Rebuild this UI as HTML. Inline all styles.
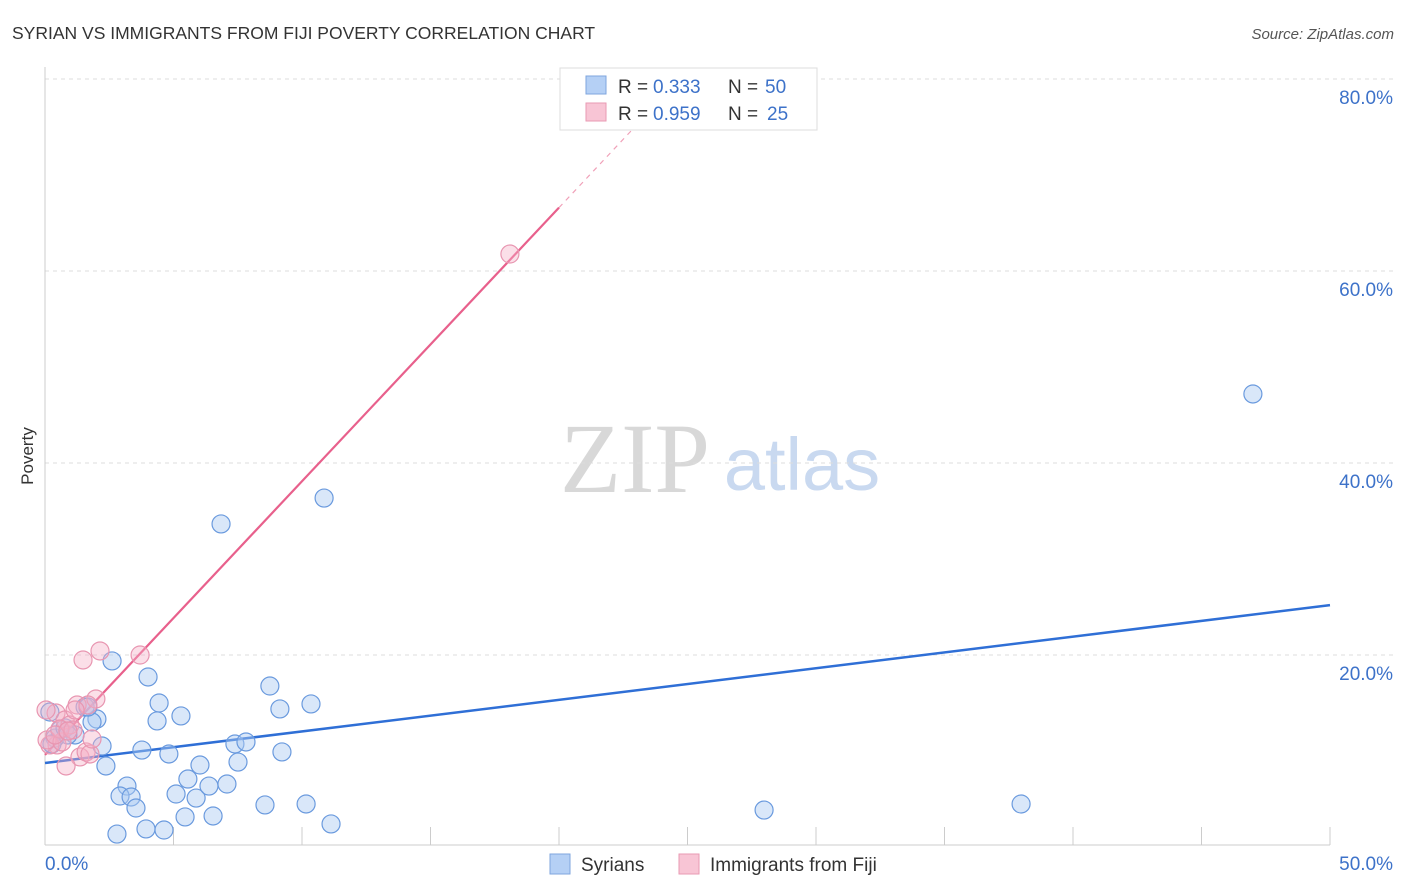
<!DOCTYPE html>
<html><head><meta charset="utf-8">
<style>
body{margin:0;background:#fff;font-family:"Liberation Sans",sans-serif;}
svg{display:block}
</style></head>
<body>
<svg id="chart" width="1406" height="892" xmlns="http://www.w3.org/2000/svg" font-family="Liberation Sans, sans-serif">
<text x="12" y="39" font-size="17.5" fill="#333">SYRIAN VS IMMIGRANTS FROM FIJI POVERTY CORRELATION CHART</text>
<text x="1394" y="39" font-size="15" font-style="italic" fill="#555" text-anchor="end">Source: ZipAtlas.com</text>
<text transform="translate(33,456) rotate(-90)" font-size="17" fill="#333" text-anchor="middle">Poverty</text>
<g>
<text x="635" y="492" font-size="100" font-family="Liberation Serif, serif" fill="#d8d8d8" text-anchor="middle">ZIP</text>
<text x="802" y="490" font-size="74" fill="#c9d9f0" text-anchor="middle">atlas</text>
</g>
<g id="grid"></g>
<g id="axes"></g>
<g id="lines"></g>
<g id="pts"></g>
<g>
<rect x="560" y="68" width="257" height="62" fill="#fff" stroke="#ddd"/>
<rect x="586" y="76" width="20" height="18" fill="#b5d0f5" stroke="#7fa6de"/>
<text x="618" y="93" font-size="19" fill="#333">R =</text>
<text x="653" y="93" font-size="19" fill="#3d72c9">0.333</text>
<text x="728" y="93" font-size="19" fill="#333">N =</text>
<text x="765" y="93" font-size="19" fill="#3d72c9">50</text>
<rect x="586" y="103" width="20" height="18" fill="#f8c5d5" stroke="#e99ab3"/>
<text x="618" y="120" font-size="19" fill="#333">R =</text>
<text x="653" y="120" font-size="19" fill="#3d72c9">0.959</text>
<text x="728" y="120" font-size="19" fill="#333">N =</text>
<text x="767" y="120" font-size="19" fill="#3d72c9">25</text>
</g>
<g>
<rect x="550" y="854" width="20" height="20" fill="#b5d0f5" stroke="#7fa6de"/>
<text x="581" y="871" font-size="19" fill="#333">Syrians</text>
<rect x="679" y="854" width="20" height="20" fill="#f8c5d5" stroke="#e99ab3"/>
<text x="710" y="871" font-size="19" fill="#333">Immigrants from Fiji</text>
</g>
</svg>
<script>
const blueX=[2.61,4.01,4.44,2.02,1.83,4.36,5.29,8.75,9.14,10.35,6.85,10.86,47.0,2.22,3.77,4.82,7.39,7.82,7.51,9.22,2.37,6.03,5.56,3.19,2.92,3.35,3.54,5.10,5.88,6.38,7.08,5.45,6.54,8.56,10.16,11.13,2.80,3.93,4.63,27.98,37.98,0.39,0.58,0.78,0.27,1.17,0.19,1.56,1.67,0.89];
const blueY=[19.38,17.71,15.0,13.33,13.02,13.13,13.65,16.77,14.38,14.9,33.65,36.35,47.19,10.52,10.1,9.69,10.73,10.94,8.85,9.9,8.44,8.54,7.08,6.35,5.31,5.21,4.06,5.52,5.10,6.35,6.56,3.13,3.23,4.38,4.48,2.40,1.35,1.88,1.77,3.85,4.48,11.35,12.19,12.40,10.73,11.67,14.06,14.58,14.58,11.67];
const pinkX=[1.48,2.14,3.70,1.98,1.25,1.67,0.43,0.78,0.97,0.47,0.19,0.08,0.66,1.36,1.60,1.75,0.82,1.83,0.58,1.09,0.39,18.09,0.89,1.17,0.04];
const pinkY=[19.48,20.42,20.0,15.42,14.79,14.79,13.96,13.23,12.71,10.63,10.63,11.15,10.94,9.38,9.90,9.69,8.44,11.25,12.29,12.19,11.67,61.77,12.08,14.27,14.27];
const blueFit=[8.75,0.329];
const pinkFit=[9.6,2.85];
const yTicks=[20,40,60,80];
const yTickLabels=["20.0%","40.0%","60.0%","80.0%"];
const xTickLabels=["0.0%","50.0%"];

const NS="http://www.w3.org/2000/svg";
const X=v=>45+v*25.7, Y=v=>847-v*9.6;
function mk(tag,attrs,parent){const e=document.createElementNS(NS,tag);for(const k in attrs)e.setAttribute(k,attrs[k]);document.getElementById(parent).appendChild(e);return e;}
yTicks.forEach((t,i)=>{
 const g=mk('line',{x1:45,x2:1395,y1:Y(t),y2:Y(t),stroke:'#ddd','stroke-dasharray':'4,4'},'grid');
 
 
 const l=mk('text',{x:1393,y:Y(t)+25,'font-size':19,fill:'#3d72c9','text-anchor':'end'},'grid');
 l.textContent=yTickLabels[i];
 
 
});
const ax=mk('line',{x1:45,x2:1330,y1:845,y2:845,stroke:'#ccc'},'axes');


const ay=mk('line',{x1:45,x2:45,y1:67,y2:845,stroke:'#ccc'},'axes');


for(let k=0;k<=10;k++){
 const t=mk('line',{x1:X(k*5),x2:X(k*5),y1:827,y2:845,stroke:'#ccc'},'axes');
 
 
}
[[0,'start',45],[50,'end',1393]].forEach((d,i)=>{
 const l=mk('text',{x:d[2],y:870,'font-size':19,fill:'#3d72c9','text-anchor':d[1]},'axes');
 l.textContent=xTickLabels[i];
 
 
});
function pts(xs,ys,fill,stroke,name){
 xs.forEach((x,i)=>{
  const c=mk('circle',{cx:X(x),cy:Y(ys[i]),r:9,fill:fill,stroke:stroke,'stroke-width':1.2},'pts');
  
  
 });
}
pts(blueX,blueY,'rgba(170,202,242,0.45)','#6a9ade','syrian-point');
pts(pinkX,pinkY,'rgba(245,175,198,0.4)','#e896b1','fiji-point');
const bl=mk('line',{x1:X(0),y1:Y(blueFit[0]),x2:X(50),y2:Y(blueFit[0]+blueFit[1]*50),stroke:'#2f6fd6','stroke-width':2.5},'lines');


const xe=20.0, xd=23.1;
const pl=mk('line',{x1:X(0),y1:Y(pinkFit[0]),x2:X(xe),y2:Y(pinkFit[0]+pinkFit[1]*xe),stroke:'#e8608c','stroke-width':2.2},'lines');


const pd=mk('line',{x1:X(xe),y1:Y(pinkFit[0]+pinkFit[1]*xe),x2:X(xd),y2:Y(pinkFit[0]+pinkFit[1]*xd),stroke:'#f0a0b8','stroke-width':1.2,'stroke-dasharray':'5,5'},'lines');


</script>
</body></html>
